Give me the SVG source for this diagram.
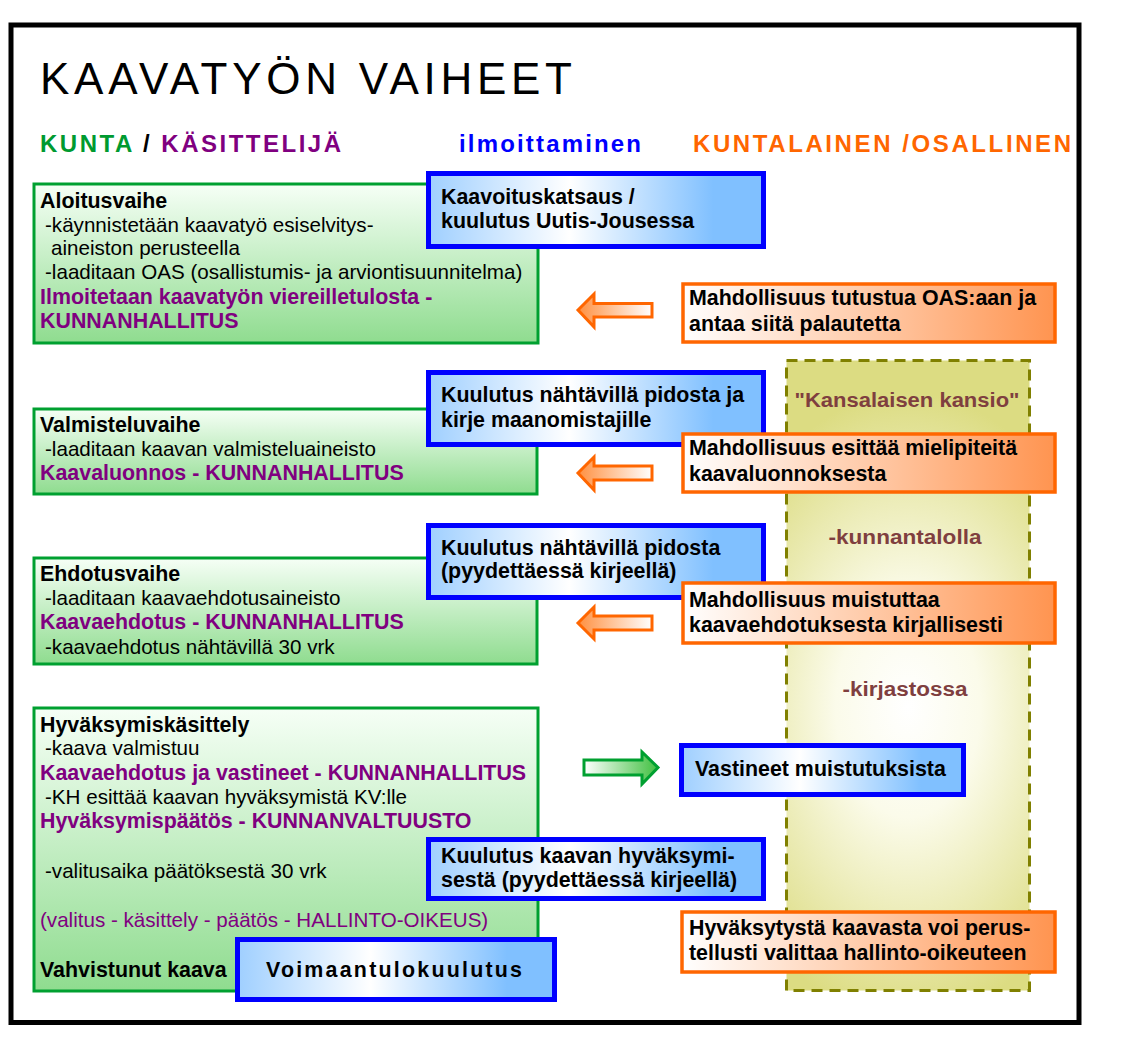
<svg xmlns="http://www.w3.org/2000/svg" width="1126" height="1049" viewBox="0 0 1126 1049">
<style>
text{font-family:"Liberation Sans",Arial,sans-serif;fill:#000}
.r{font-size:20.6px}
.b{font-size:21.4px;font-weight:bold}
.p{fill:#800080}
.pb{fill:#800080;font-size:21.4px;font-weight:bold}
.hd{font-size:24px;font-weight:bold}
.pt{font-size:20px;font-weight:bold;fill:#7f3f3f;text-anchor:middle}
.g{stroke:#00a030;stroke-width:3;fill:url(#gg)}
.bl{stroke:#0000ff;stroke-width:5;fill:url(#bg)}
.or{stroke:#ff6600;stroke-width:3.5;fill:url(#og)}
.oa{stroke:#ff6600;stroke-width:3;fill:url(#oag);stroke-linejoin:miter}
.ga{stroke:#00a030;stroke-width:3;fill:url(#gag)}
</style>
<defs>
<linearGradient id="gg" x1="0" y1="0" x2="0" y2="1">
<stop offset="0" stop-color="#f6fff6"/>
<stop offset="1" stop-color="#8fdc8f"/>
</linearGradient>
<linearGradient id="bg" x1="0" y1="0" x2="1" y2="0">
<stop offset="0" stop-color="#9fcfff"/>
<stop offset="0.42" stop-color="#ffffff"/>
<stop offset="0.85" stop-color="#80c0ff"/>
<stop offset="1" stop-color="#80c0ff"/>
</linearGradient>
<linearGradient id="og" x1="0" y1="0" x2="1" y2="0">
<stop offset="0" stop-color="#ffffff"/>
<stop offset="0.5" stop-color="#ffcaa8"/>
<stop offset="1" stop-color="#ff9450"/>
</linearGradient>
<linearGradient id="oag" x1="0" y1="0" x2="1" y2="0">
<stop offset="0" stop-color="#ff9040"/>
<stop offset="1" stop-color="#ffffff"/>
</linearGradient>
<linearGradient id="gag" x1="0" y1="0" x2="1" y2="0">
<stop offset="0" stop-color="#ffffff"/>
<stop offset="1" stop-color="#40c040"/>
</linearGradient>
<radialGradient id="pg" cx="0.5" cy="0.55" r="0.5" gradientTransform="translate(0.5 0.55) scale(1.7 1) translate(-0.5 -0.55)">
<stop offset="0" stop-color="#ffffff"/>
<stop offset="0.35" stop-color="#fbfbea"/>
<stop offset="1" stop-color="#dcdc82"/>
</radialGradient>
</defs>

<rect x="11" y="25" width="1068" height="997.5" fill="#fff" stroke="#000" stroke-width="5"/>

<g id="title">
<text x="40" y="94" font-size="44" textLength="532" lengthAdjust="spacing">KAAVATYÖN VAIHEET</text>
</g>

<g id="headers">
<text class="hd" x="40" y="152" textLength="301" lengthAdjust="spacing"><tspan style="fill:#009a30">KUNTA</tspan> / <tspan style="fill:#800080">KÄSITTELIJÄ</tspan></text>
<text class="hd" x="459" y="152" textLength="182" lengthAdjust="spacing" style="fill:#0000ff">ilmoittaminen</text>
<text class="hd" x="693" y="152" textLength="378" lengthAdjust="spacing" style="fill:#ff6600">KUNTALAINEN /OSALLINEN</text>
</g>

<g id="kansio">
<rect x="786.5" y="360.5" width="243" height="630" fill="url(#pg)" stroke="#808000" stroke-width="3" stroke-dasharray="11 7"/>
<text class="pt" x="907" y="407" textLength="225" lengthAdjust="spacingAndGlyphs">"Kansalaisen kansio"</text>
<text class="pt" x="905" y="544" textLength="153" lengthAdjust="spacingAndGlyphs">-kunnantalolla</text>
<text class="pt" x="905" y="696" textLength="125" lengthAdjust="spacingAndGlyphs">-kirjastossa</text>
</g>

<g id="aloitusvaihe">
<rect class="g" x="34" y="184" width="504" height="159"/>
<text class="b" x="40" y="208">Aloitusvaihe</text>
<text class="r" x="45" y="232">-käynnistetään kaavatyö esiselvitys-</text>
<text class="r" x="51" y="255">aineiston perusteella</text>
<text class="r" x="45" y="279">-laaditaan OAS (osallistumis- ja arviontisuunnitelma)</text>
<text class="pb" x="40" y="304">Ilmoitetaan kaavatyön viereilletulosta -</text>
<text class="pb" x="40" y="328">KUNNANHALLITUS</text>
</g>

<g id="valmisteluvaihe">
<rect class="g" x="34" y="409" width="503" height="85"/>
<text class="b" x="40" y="432">Valmisteluvaihe</text>
<text class="r" x="45" y="456">-laaditaan kaavan valmisteluaineisto</text>
<text class="pb" x="40" y="480">Kaavaluonnos - KUNNANHALLITUS</text>
</g>

<g id="ehdotusvaihe">
<rect class="g" x="34" y="558" width="503" height="106"/>
<text class="b" x="40" y="581">Ehdotusvaihe</text>
<text class="r" x="45" y="605">-laaditaan kaavaehdotusaineisto</text>
<text class="pb" x="40" y="629">Kaavaehdotus - KUNNANHALLITUS</text>
<text class="r" x="45" y="654">-kaavaehdotus nähtävillä 30 vrk</text>
</g>

<g id="hyvaksymiskasittely">
<rect class="g" x="34" y="708" width="504" height="283"/>
<text class="b" x="40" y="732">Hyväksymiskäsittely</text>
<text class="r" x="45" y="755">-kaava valmistuu</text>
<text class="pb" x="40" y="780">Kaavaehdotus ja vastineet - KUNNANHALLITUS</text>
<text class="r" x="45" y="804">-KH esittää kaavan hyväksymistä KV:lle</text>
<text class="pb" x="40" y="828">Hyväksymispäätös - KUNNANVALTUUSTO</text>
<text class="r" x="45" y="878">-valitusaika päätöksestä 30 vrk</text>
<text class="r p" x="40" y="927">(valitus - käsittely - päätös - HALLINTO-OIKEUS)</text>
<text class="b" x="40" y="977">Vahvistunut kaava</text>
</g>

<g id="kaavoituskatsaus">
<rect class="bl" x="428.5" y="173.5" width="335" height="73"/>
<text class="b" x="441" y="204">Kaavoituskatsaus /</text>
<text class="b" x="441" y="228">kuulutus Uutis-Jousessa</text>
</g>

<g id="kuulutus-valmistelu">
<rect class="bl" x="428.5" y="372.5" width="335" height="72"/>
<text class="b" x="441" y="402">Kuulutus nähtävillä pidosta ja</text>
<text class="b" x="441" y="427">kirje maanomistajille</text>
</g>

<g id="kuulutus-ehdotus">
<rect class="bl" x="428.5" y="525.5" width="335" height="72"/>
<text class="b" x="441" y="555">Kuulutus nähtävillä pidosta</text>
<text class="b" x="441" y="578">(pyydettäessä kirjeellä)</text>
</g>

<g id="vastineet">
<rect class="bl" x="681.5" y="745.5" width="282" height="49"/>
<text class="b" x="695" y="776">Vastineet muistutuksista</text>
</g>

<g id="kuulutus-hyvaksyminen">
<rect class="bl" x="428.5" y="839.5" width="335" height="59"/>
<text class="b" x="441" y="863">Kuulutus kaavan hyväksymi-</text>
<text class="b" x="441" y="887">sestä (pyydettäessä kirjeellä)</text>
</g>

<g id="voimaantulokuulutus">
<rect class="bl" x="237.5" y="939.5" width="317" height="60"/>
<text class="b" x="266" y="977" textLength="256" lengthAdjust="spacing">Voimaantulokuulutus</text>
</g>

<g id="oas-palaute">
<rect class="or" x="683" y="284" width="372" height="58"/>
<text class="b" x="689" y="305">Mahdollisuus tutustua OAS:aan ja</text>
<text class="b" x="689" y="331">antaa siitä palautetta</text>
</g>

<g id="mielipiteet">
<rect class="or" x="683" y="434" width="372" height="58"/>
<text class="b" x="689" y="455">Mahdollisuus esittää mielipiteitä</text>
<text class="b" x="689" y="481">kaavaluonnoksesta</text>
</g>

<g id="muistutus">
<rect class="or" x="683" y="583" width="372" height="60"/>
<text class="b" x="689" y="607">Mahdollisuus muistuttaa</text>
<text class="b" x="689" y="632">kaavaehdotuksesta kirjallisesti</text>
</g>

<g id="valitus">
<rect class="or" x="682" y="912" width="373" height="60"/>
<text class="b" x="689" y="935">Hyväksytystä kaavasta voi perus-</text>
<text class="b" x="689" y="960">tellusti valittaa hallinto-oikeuteen</text>
</g>

<g id="connectors">
<polygon class="oa" points="578,310 594,294 594,303.5 652,303.5 652,317 594,317 594,327"/>
<polygon class="oa" points="578,473 594,457 594,466 652,466 652,480 594,480 594,490"/>
<polygon class="oa" points="578,623 594,607 594,616 652,616 652,630 594,630 594,639"/>
<polygon class="ga" points="584,760 642,760 642,752 658,767.5 642,784 642,775 584,775"/>
</g>
</svg>
